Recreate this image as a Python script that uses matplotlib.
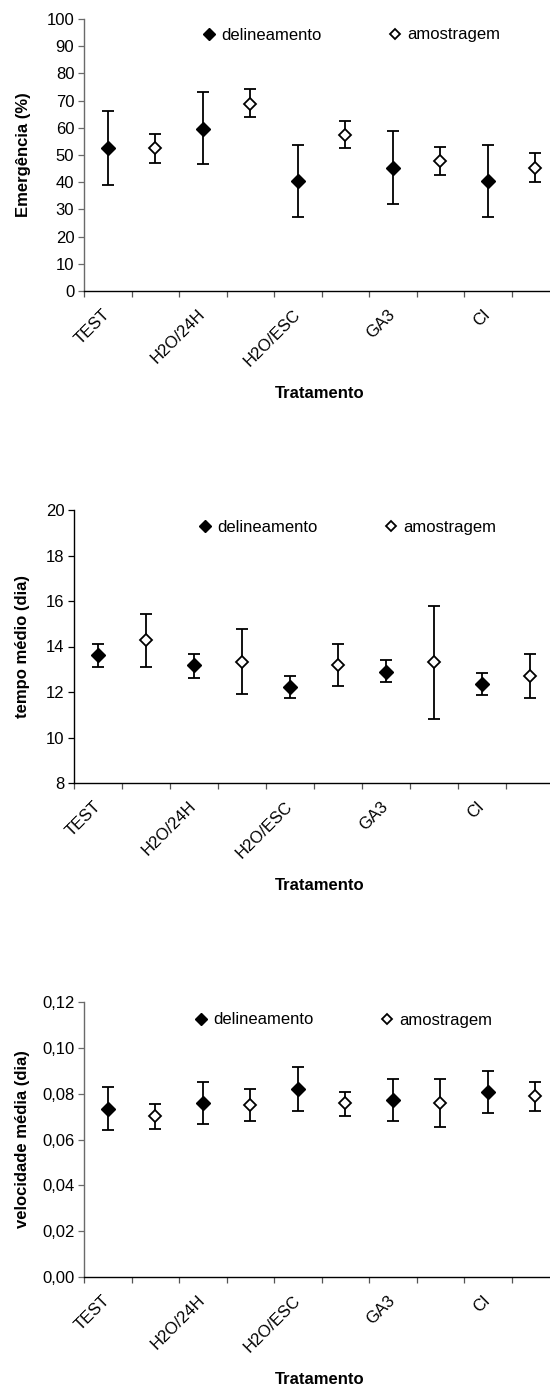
import matplotlib
matplotlib.use("Agg")
import matplotlib.pyplot as plt
import matplotlib.transforms as mtrans
import numpy as np

plt.rcParams['font.family'] = ['Liberation Sans', 'DejaVu Sans']

# ---------------- data ----------------
categories = ['TEST', 'H2O/24H', 'H2O/ESC', 'GA3', 'CI']
series_names = ['delineamento', 'amostragem']

emerg_del = [52.5, 59.4, 40.5, 45.4, 40.5]
emerg_del_lo = [39.0, 46.6, 27.2, 31.9, 27.2]
emerg_del_hi = [66.1, 73.2, 53.6, 58.9, 53.6]
emerg_amo = [52.5, 68.9, 57.2, 47.7, 45.4]
emerg_amo_lo = [47.1, 64.1, 52.4, 42.5, 40.0]
emerg_amo_hi = [57.8, 74.1, 62.4, 53.1, 50.7]

tempo_del = [13.61, 13.19, 12.21, 12.88, 12.36]
tempo_del_lo = [13.12, 12.62, 11.73, 12.42, 11.86]
tempo_del_hi = [14.11, 13.69, 12.69, 13.39, 12.85]
tempo_amo = [14.30, 13.32, 13.18, 13.32, 12.69]
tempo_amo_lo = [13.12, 11.92, 12.27, 10.81, 11.73]
tempo_amo_hi = [15.42, 14.79, 14.11, 15.77, 13.69]

vel_del = [0.0732, 0.0759, 0.0822, 0.0772, 0.0809]
vel_del_lo = [0.0640, 0.0669, 0.0724, 0.0682, 0.0717]
vel_del_hi = [0.0829, 0.0849, 0.0915, 0.0864, 0.0900]
vel_amo = [0.0704, 0.0752, 0.0759, 0.0759, 0.0788]
vel_amo_lo = [0.0647, 0.0682, 0.0704, 0.0655, 0.0724]
vel_amo_hi = [0.0753, 0.0822, 0.0809, 0.0864, 0.0849]

emerg_ticks = [0, 10, 20, 30, 40, 50, 60, 70, 80, 90, 100]
emerg_ticklabels = ['0', '10', '20', '30', '40', '50', '60', '70', '80', '90', '100']
tempo_ticks = [8, 10, 12, 14, 16, 18, 20]
tempo_ticklabels = ['8', '10', '12', '14', '16', '18', '20']
vel_ticks = [0.00, 0.02, 0.04, 0.06, 0.08, 0.10, 0.12]
vel_ticklabels = ['0,00', '0,02', '0,04', '0,06', '0,08', '0,10', '0,12']

ylabels = ['Emergência (%)', 'tempo médio (dia)', 'velocidade média (dia)']
xlabel = 'Tratamento'

# ---------------- figure ----------------
W, H = 550, 1390
fig = plt.figure(figsize=(W / 100, H / 100), dpi=100)

# axes boxes in pixels: left, top, width, height
boxes = [(84, 19, 475, 272), (74, 510, 480, 273), (84, 1002, 475, 275)]
left_spine_colors = ['#6a6a6a', '#000000', '#6a6a6a']
legend_marker_x = [209, 205, 201]
legend_marker_y = [35, 527, 1020]

panels = [
    (emerg_del, emerg_del_lo, emerg_del_hi, emerg_amo, emerg_amo_lo, emerg_amo_hi,
     emerg_ticks, emerg_ticklabels),
    (tempo_del, tempo_del_lo, tempo_del_hi, tempo_amo, tempo_amo_lo, tempo_amo_hi,
     tempo_ticks, tempo_ticklabels),
    (vel_del, vel_del_lo, vel_del_hi, vel_amo, vel_amo_lo, vel_amo_hi,
     vel_ticks, vel_ticklabels),
]

FS = 12
n = len(categories)
x_del = np.arange(n) * 2 + 0.5
x_amo = np.arange(n) * 2 + 1.5
shift = mtrans.ScaledTranslation(-6 / 100, 0, fig.dpi_scale_trans)

for i, (box, pdata) in enumerate(zip(boxes, panels)):
    l, t, w, h = box
    ax = fig.add_axes([l / W, 1 - (t + h) / H, w / W, h / H])
    d, dlo, dhi, a, alo, ahi, yt, ytl = pdata
    d = np.array(d); a = np.array(a)
    derr = [d - np.array(dlo), np.array(dhi) - d]
    aerr = [a - np.array(alo), np.array(ahi) - a]
    eb1 = ax.errorbar(x_del, d, yerr=derr, fmt='D', color='black', ms=7.5,
                      mfc='black', mec='black', ecolor='black', elinewidth=1.3,
                      capsize=4, capthick=1.3, label=series_names[0], zorder=3)
    eb2 = ax.errorbar(x_amo, a, yerr=aerr, fmt='D', color='black', ms=6.5,
                      mfc='white', mec='black', mew=1.3, ecolor='black',
                      elinewidth=1.3, capsize=4, capthick=1.3,
                      label=series_names[1], zorder=3)

    ax.set_xlim(0, 2 * n)
    ax.set_ylim(yt[0], yt[-1])
    ax.set_yticks(yt)
    ax.set_yticklabels(ytl, fontsize=FS)

    ax.set_xticks(np.arange(0, 2 * n + 1))
    ax.set_xticklabels([])
    ax.set_xticks(x_del, minor=True)
    ax.set_xticklabels(categories, minor=True, rotation=45, ha='right',
                       va='center', rotation_mode='anchor', fontsize=FS)
    for lab in ax.get_xticklabels(minor=True):
        lab.set_transform(lab.get_transform() + shift)
    ax.tick_params(axis='x', which='minor', length=0, pad=15)
    ax.tick_params(axis='x', which='major', length=4, width=0.9,
                   color='#555555', direction='out')
    ax.tick_params(axis='y', length=4, width=0.9, color=left_spine_colors[i],
                   direction='out', pad=3)

    for s in ['top', 'right']:
        ax.spines[s].set_visible(False)
    ax.spines['left'].set_color(left_spine_colors[i])
    ax.spines['left'].set_linewidth(1.0)
    ax.spines['bottom'].set_color('black')
    ax.spines['bottom'].set_linewidth(1.0)

    ax.set_ylabel(ylabels[i], fontsize=FS, fontweight='bold')
    ax.yaxis.set_label_coords((23 - l) / w, 0.5)
    ax.yaxis.label.set_va('center')
    ax.set_xlabel(xlabel, fontsize=FS, fontweight='bold', va='center')
    ax.xaxis.set_label_coords((320 - l) / w, -102 / h)

    # legend
    hl = 1.0
    hpx = hl * FS * 100 / 72
    lx = (legend_marker_x[i] - hpx / 2 - l) / w
    ly = (t + h - legend_marker_y[i]) / h
    ax.legend(handles=[eb1.lines[0], eb2.lines[0]], labels=series_names,
              ncol=2, frameon=False, fontsize=FS, loc='center left',
              bbox_to_anchor=(lx, ly), borderpad=0, borderaxespad=0,
              handlelength=hl, handletextpad=0.25, columnspacing=3.9,
              markerscale=0.8)

fig.savefig('out.png', dpi=100)
